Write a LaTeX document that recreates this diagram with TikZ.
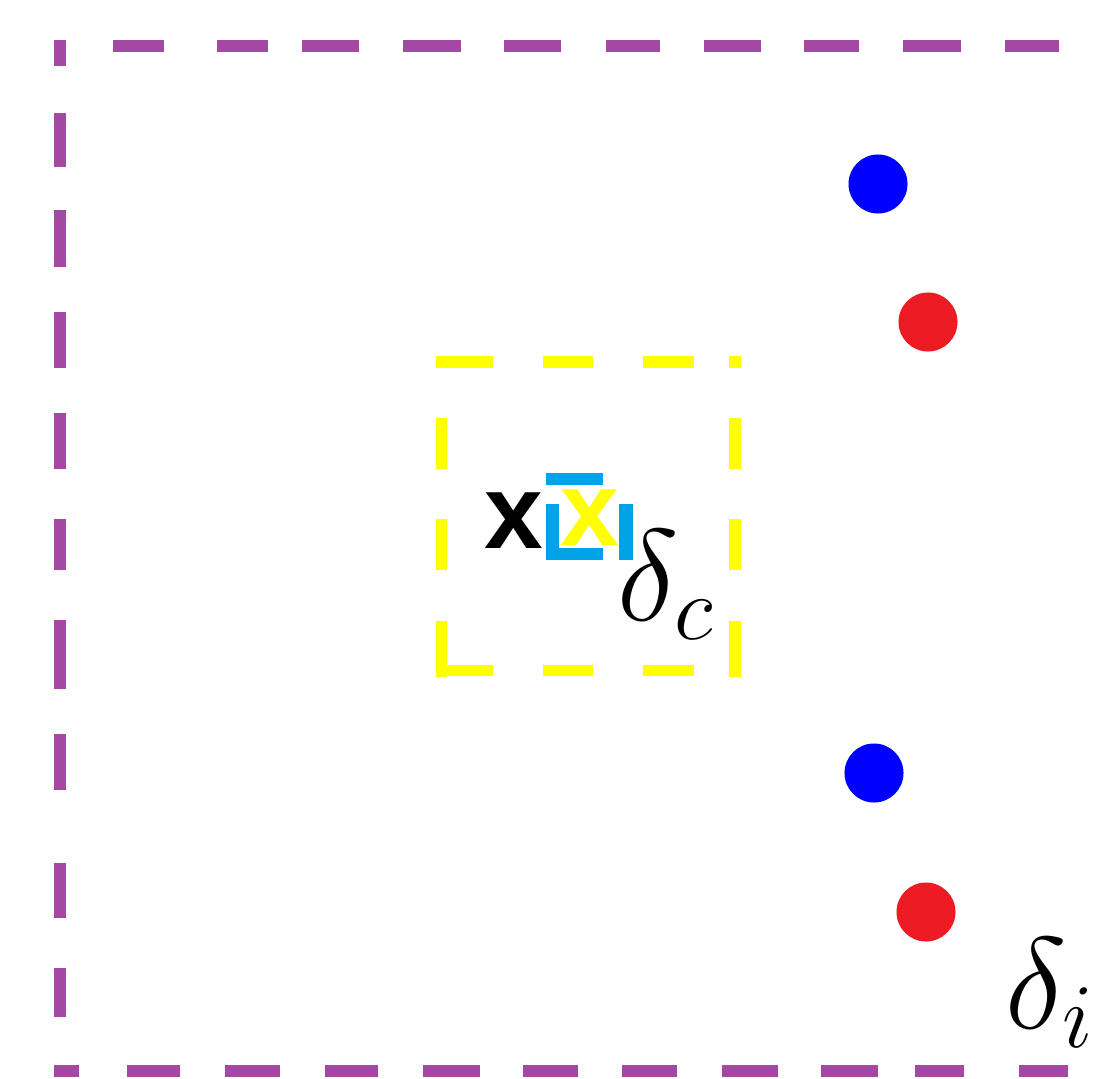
\RequirePackage{fix-cm}
\documentclass[tikz,border=0pt]{standalone}
\usepackage{fontspec}
\newfontfamily\markfont{Liberation Sans}
\usetikzlibrary{positioning}

\definecolor{pinkpurple}{HTML}{A349A4}
\definecolor{paintyellow}{HTML}{FFFF00}
\definecolor{paintcyan}{HTML}{00A2E8}
\definecolor{paintblue}{HTML}{0000FF}
\definecolor{paintred}{HTML}{ED1C24}

\tikzset{
  outerdash/.style={draw=pinkpurple, line width=0.12cm, line cap=butt},
  innerdash/.style={draw=paintyellow, line width=0.115cm, line cap=butt},
  sample/.style={circle, inner sep=0pt, minimum size=0.59cm},
  xmark/.style={inner sep=0pt, font=\markfont\bfseries\fontsize{30}{32}\selectfont},
  deltalabel/.style={inner sep=0pt, anchor=base west, font=\fontsize{37}{44}\selectfont}
}

\begin{document}
\begin{tikzpicture}[x=0.01cm, y=-0.01cm]
  \useasboundingbox (0,0) rectangle (1094,1079);

  % outer region, left open on the right
  \foreach \a/\b in {113/164, 217/268, 302/359, 403/461, 504/561, 606/660, 704/761, 804/859, 903/961, 1005/1059}
    \draw[outerdash] (\a,46) -- (\b,46);
  \foreach \a/\b in {40/66, 113/167, 210/267, 312/368, 413/469, 519/570, 620/689, 734/790, 863/918, 968/1017}
    \draw[outerdash] (60,\a) -- (60,\b);
  \foreach \a/\b in {54/79, 127/180, 225/280, 325/378, 423/480, 523/578, 622/677, 722/778, 821/878, 915/964, 1019/1068}
    \draw[outerdash] (\a,1071) -- (\b,1071);
  \node[deltalabel] (deltai) at (1005,1028) {$\delta_i$};

  % inner region
  \foreach \a/\b in {436/493, 543/593, 643/694, 729/741} {
    \draw[innerdash] (\a,362) -- (\b,362);
    \draw[innerdash] (\a,670.5) -- (\b,670.5);
  }
  \foreach \a/\b in {418/469, 519/570, 621/677} {
    \draw[innerdash] (441.5,\a) -- (441.5,\b);
    \draw[innerdash] (735,\a) -- (735,\b);
  }
  \node[deltalabel] (deltac) at (617,620) {$\delta_c$};

  % centre markers
  \fill[paintcyan] (546,473) rectangle (603,485);
  \fill[paintcyan] (546,504) rectangle (559,560);
  \fill[paintcyan] (546,548) rectangle (603,560);
  \fill[paintcyan] (619,504) rectangle (633,560);
  \node[xmark, text=black] (xblack) at (514,521) {x};
  \node[xmark, text=paintyellow] (xyellow) at (590,518) {x};

  % samples
  \node[sample, fill=paintblue] (blueup) at (878,184) {};
  \node[sample, fill=paintred] (redup) at (928,322) {};
  \node[sample, fill=paintblue] (bluedown) at (874,773) {};
  \node[sample, fill=paintred] (reddown) at (926,912) {};
\end{tikzpicture}
\end{document}
